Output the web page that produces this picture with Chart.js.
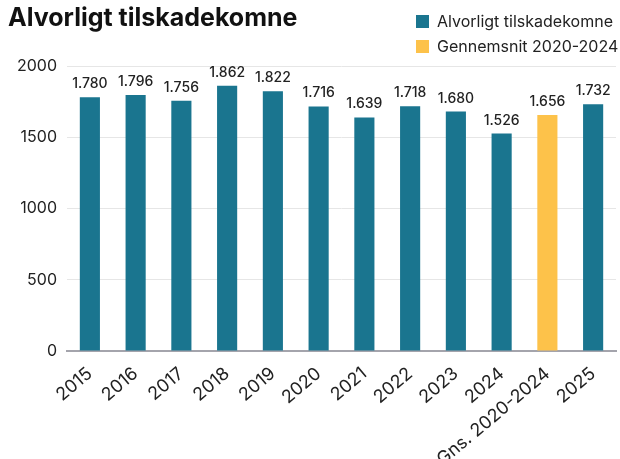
<!DOCTYPE html>
<html>
<head>
<meta charset="utf-8">
<script src="https://cdn.jsdelivr.net/npm/chart.js@4/dist/chart.umd.min.js"></script>
<style>
  html, body { margin: 0; padding: 0; background: #fff; }
  #wrap { width: 620px; height: 459px; }
</style>
</head>
<body>
<div id="wrap"><canvas id="chart"></canvas></div>
<script>
const titleText = 'Alvorligt tilskadekomne';
const categories = ['2015', '2016', '2017', '2018', '2019', '2020', '2021', '2022', '2023', '2024', 'Gns. 2020-2024', '2025'];
const values = [1780, 1796, 1756, 1862, 1822, 1716, 1639, 1718, 1680, 1526, 1656, 1732];
const legendLabels = ['Alvorligt tilskadekomne', 'Gennemsnit 2020-2024'];
const yTicks = [0, 500, 1000, 1500, 2000];

const TEAL = '#1a758f';
const YELLOW = '#fdc24a';
const FONT = 'Inter, "Noto Sans", sans-serif';

// average bar gets the yellow colour
const barColors = categories.map(c => c.startsWith('Gns.') ? YELLOW : TEAL);
const legendColors = [TEAL, YELLOW];

function fmt(n) {
  return String(n).replace(/\B(?=(\d{3})+(?!\d))/g, '.');
}

// title, legend and value labels drawn on the canvas
const decorPlugin = {
  id: 'decor',
  afterDatasetsDraw(chart) {
    const ctx = chart.ctx;
    const meta = chart.getDatasetMeta(0);
    ctx.save();
    ctx.fillStyle = '#222';
    ctx.font = '500 14px ' + FONT;
    ctx.textAlign = 'center';
    ctx.textBaseline = 'alphabetic';
    meta.data.forEach((bar, i) => {
      ctx.fillText(fmt(values[i]), bar.x, bar.y - 9);
    });
    ctx.restore();
  },
  afterDraw(chart) {
    const ctx = chart.ctx;
    ctx.save();
    ctx.fillStyle = '#111';
    ctx.font = 'bold 25px ' + FONT;
    ctx.textAlign = 'left';
    ctx.textBaseline = 'alphabetic';
    ctx.fillText(titleText, 8, 26);

    ctx.font = '16px ' + FONT;
    ctx.textBaseline = 'middle';
    legendLabels.forEach((lbl, i) => {
      const y = 15 + i * 25;
      ctx.fillStyle = legendColors[i];
      ctx.fillRect(416, y, 13, 13);
      ctx.fillStyle = '#222';
      ctx.fillText(lbl, 437, y + 7);
    });
    ctx.restore();
  }
};

new Chart(document.getElementById('chart'), {
  type: 'bar',
  data: {
    labels: categories,
    datasets: [{
      label: legendLabels[0],
      data: values,
      backgroundColor: barColors,
      barPercentage: 0.55,
      categoryPercentage: 0.8
    }]
  },
  options: {
    responsive: true,
    maintainAspectRatio: false,
    animation: false,
    layout: {
      padding: { top: 66, left: 15, right: 4, bottom: 0 }
    },
    plugins: {
      legend: { display: false },
      tooltip: { enabled: false }
    },
    scales: {
      x: {
        grid: { display: false },
        border: { color: '#a4a4ac', width: 2 },
        ticks: {
          color: '#222',
          font: { family: FONT, size: 18 },
          maxRotation: 40,
          minRotation: 40,
          autoSkip: false,
          padding: 4
        },
        // long rotated labels run off the bottom like in the original
        afterFit(scale) {
          scale.height = 108;
          scale.paddingLeft = 0;
          scale.paddingRight = 0;
        }
      },
      y: {
        min: 0,
        max: 2000,
        afterBuildTicks(axis) {
          axis.ticks = yTicks.map(v => ({ value: v }));
        },
        afterFit(scale) {
          scale.width = 52;
        },
        grid: { color: '#e6e6e6', drawTicks: false },
        border: { display: false },
        ticks: {
          color: '#222',
          font: { family: FONT, size: 16 },
          padding: 10,
          callback: v => String(v)
        }
      }
    }
  },
  plugins: [decorPlugin]
});
</script>
</body>
</html>
